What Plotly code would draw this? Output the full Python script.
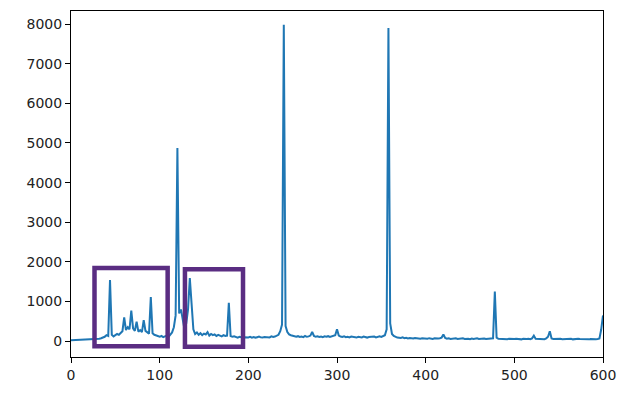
import numpy as np
import plotly.graph_objects as go

# Spectrum sampled every 2 units from 0 to 600
x_start, x_stop, x_step = 0, 600, 2
intensity = [
    20, 22, 18, 25, 23, 28, 24, 30, 27, 32,
    35, 40, 38, 45, 50, 48, 60, 72, 85, 110,
    150, 130, 1540, 160, 120, 140, 180, 160, 210, 250,
    600, 280, 350, 300, 770, 320, 260, 490, 240, 280,
    230, 530, 260, 220, 190, 1110, 200, 160, 140, 120,
    110, 130, 100, 120, 140, 110, 180, 220, 350, 650,
    4870, 700, 800, 500, 300, 450, 800, 1590, 990, 300,
    180, 220, 160, 200, 150, 190, 170, 230, 140, 180,
    150, 170, 130, 160, 140, 120, 150, 130, 140, 970,
    130, 110, 120, 100, 90, 110, 95, 85, 100, 90,
    95, 110, 90, 105, 85, 100, 115, 95, 90, 105,
    100, 110, 95, 120, 105, 115, 130, 160, 250, 420,
    7980, 380, 230, 170, 150, 130, 120, 110, 125, 105,
    115, 100, 130, 110, 120, 140, 235, 130, 110, 120,
    105, 115, 100, 120, 110, 125, 105, 115, 130, 150,
    300, 140, 115, 105, 120, 100, 110, 95, 115, 100,
    105, 90, 110, 100, 95, 115, 100, 90, 105, 110,
    100, 115, 95, 110, 120, 105, 130, 150, 300, 7900,
    450, 180, 130, 100, 90, 85, 80, 95, 75, 85,
    70, 80, 75, 65, 80, 70, 75, 60, 70, 65,
    70, 60, 75, 65, 55, 70, 60, 65, 75, 90,
    170, 80, 60, 70, 55, 65, 60, 70, 55, 65,
    60, 70, 55, 65, 60, 50, 65, 55, 60, 70,
    55, 60, 50, 65, 55, 60, 50, 60, 70, 1250,
    90, 60, 55, 50, 60, 55, 50, 60, 55, 50,
    55, 60, 50, 55, 45, 60, 50, 55, 60, 50,
    70, 140, 60, 55, 50, 60, 55, 50, 70, 110,
    250, 70, 55, 60, 50, 55, 60, 50, 55, 60,
    50, 55, 60, 45, 55, 50, 60, 55, 50, 45,
    55, 50, 45, 55, 50, 60, 50, 55, 70, 300,
    650,
]
x_ticks = [0, 100, 200, 300, 400, 500, 600]
y_ticks = [0, 1000, 2000, 3000, 4000, 5000, 6000, 7000, 8000]

# Highlight boxes (x0, x1, y0, y1)
box_1 = [26.5, 109, -130, 1845]
box_2 = [128.5, 194, -140, 1815]

x_vals = np.arange(x_start, x_stop + x_step, x_step)

fig = go.Figure()
fig.add_trace(go.Scatter(
    x=x_vals, y=intensity, mode="lines",
    line=dict(color="#1f77b4", width=2),
    showlegend=False, hoverinfo="skip",
))

for b in (box_1, box_2):
    fig.add_shape(type="rect", x0=b[0], x1=b[1], y0=b[2], y1=b[3],
                  xref="x", yref="y",
                  line=dict(color="#5a2d82", width=4.5),
                  fillcolor="rgba(0,0,0,0)")

axis_common = dict(
    showgrid=False, zeroline=False, showline=True, linecolor="black",
    linewidth=1, mirror=True, ticks="outside", ticklen=5, tickcolor="black",
    tickwidth=1, tickfont=dict(family="DejaVu Sans", size=14, color="#222222"),
)
fig.update_xaxes(range=[0, 600], tickvals=x_ticks, **axis_common)
fig.update_yaxes(range=[-400, 8330], tickvals=y_ticks, **axis_common)

# The page body adds an 8px offset, so the figure is sized to compensate
fig.update_layout(
    width=622, height=385,
    margin=dict(l=63, r=27, t=3, b=36),
    plot_bgcolor="white", paper_bgcolor="white",
)

fig.write_html("out.html")
